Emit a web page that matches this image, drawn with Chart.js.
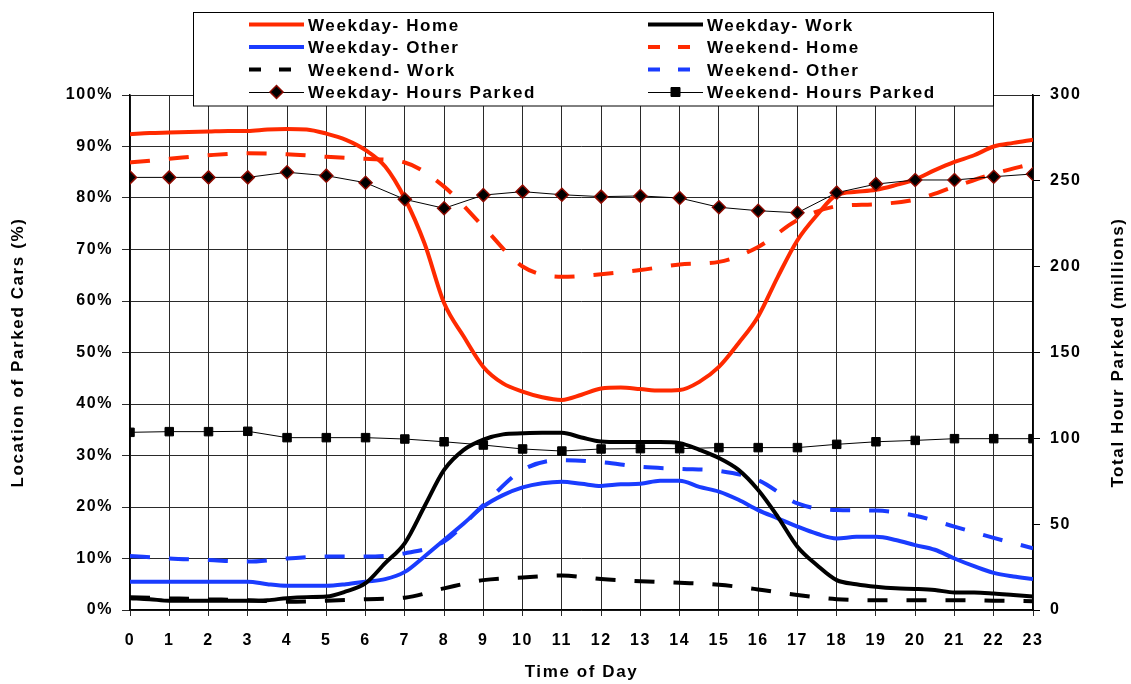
<!DOCTYPE html>
<html>
<head>
<meta charset="utf-8">
<script src="https://cdn.jsdelivr.net/npm/chart.js@4"></script>
<style>
  html, body { margin: 0; padding: 0; background: #fff; }
  #wrap { width: 1131px; height: 684px; position: relative; }
</style>
</head>
<body>
<div id="wrap"><canvas id="myChart"></canvas></div>
<script>
// time axis: hourly points and half-hour points
const hours = [0, 1, 2, 3, 4, 5, 6, 7, 8, 9, 10, 11, 12, 13, 14, 15, 16, 17, 18, 19, 20, 21, 22, 23];
const halfHours = [0, 0.5, 1, 1.5, 2, 2.5, 3, 3.5, 4, 4.5, 5, 5.5, 6, 6.5, 7, 7.5, 8, 8.5, 9, 9.5,
    10, 10.5, 11, 11.5, 12, 12.5, 13, 13.5, 14, 14.5, 15, 15.5, 16, 16.5, 17, 17.5, 18, 18.5, 19, 19.5,
    20, 20.5, 21, 21.5, 22, 22.5, 23];

// % of parked cars (left axis), read every half hour
const weekdayHome = [92.4, 92.6, 92.7, 92.8, 92.9, 93.0, 93.0, 93.3, 93.4, 93.3, 92.5, 91.3, 89.3, 86.1,
    79.9, 71.2, 59.6, 53.1, 47.2, 44.0, 42.4, 41.3, 40.8, 41.8, 43.0, 43.2, 42.9, 42.6, 42.7, 44.3, 47.2,
    51.8, 57.0, 64.7, 71.8, 76.7, 80.6, 81.2, 81.6, 82.5, 83.6, 85.4, 87.0, 88.3, 90.0, 90.7, 91.3];
const weekdayWork = [2.3, 2.1, 1.8, 1.8, 1.8, 1.8, 1.8, 1.9, 2.3, 2.5, 2.6, 3.6, 5.2, 9.1, 13.0, 20.1,
    27.2, 31.1, 33.1, 34.1, 34.3, 34.4, 34.4, 33.5, 32.7, 32.6, 32.6, 32.6, 32.4, 31.1, 29.5, 27.2, 23.3,
    18.1, 12.3, 8.7, 5.8, 5.0, 4.5, 4.2, 4.1, 3.9, 3.4, 3.4, 3.2, 2.9, 2.6];
const weekdayOther = [5.5, 5.5, 5.5, 5.5, 5.5, 5.5, 5.5, 5.0, 4.7, 4.7, 4.7, 5.0, 5.5, 6.0, 7.4, 10.4,
    13.6, 16.8, 20.1, 22.3, 23.8, 24.6, 24.9, 24.5, 24.1, 24.4, 24.5, 25.1, 25.1, 23.9, 23.0, 21.4, 19.4,
    17.8, 16.2, 14.8, 13.9, 14.2, 14.2, 13.6, 12.6, 11.7, 10.0, 8.5, 7.2, 6.5, 6.0];

// weekend, hourly
const weekendHome = [86.9, 87.6, 88.3, 88.7, 88.5, 88.0, 87.6, 86.9, 82.2, 74.4, 66.7, 64.7, 65.2, 66.0,
    67.1, 67.6, 70.5, 75.7, 78.4, 78.8, 79.7, 82.2, 84.7, 86.7];
const weekendWork = [2.5, 2.3, 2.1, 1.9, 1.6, 1.8, 2.1, 2.4, 4.2, 5.8, 6.3, 6.7, 6.0, 5.6, 5.3, 4.9, 4.0,
    2.9, 2.1, 1.9, 1.9, 1.9, 1.8, 1.7];
const weekendOther = [10.5, 10.0, 9.7, 9.4, 10.0, 10.4, 10.4, 11.0, 13.3, 20.4, 27.2, 29.1, 28.7, 27.8,
    27.4, 27.0, 25.2, 20.7, 19.4, 19.3, 18.3, 16.2, 14.0, 12.0];

// total hours parked, millions (right axis)
const weekdayParked = [252, 252, 252, 252, 255, 253, 248.9, 239.2, 234, 241.7, 243.7, 241.9, 240.8,
    241.2, 240, 234.6, 232.6, 231.4, 243.1, 248.1, 250.5, 250.5, 252.4, 254];
const weekendParked = [103.5, 103.9, 103.9, 104.1, 100.4, 100.4, 100.4, 99.6, 98.0, 96.1, 93.8, 92.6,
    93.8, 94.0, 94.0, 94.6, 94.6, 94.6, 96.5, 98.0, 98.8, 99.8, 99.8, 99.8];

const RED = '#ff2a00';
const BLUE = '#1a3cff';
const FONT = '"Liberation Sans", Arial, sans-serif';
const SPACING = '1.6px';

function pts(xs, ys) {
    return xs.map((x, i) => ({x: x, y: ys[i]}));
}

function solid(label, xs, ys, color) {
    return {
        label: label, data: pts(xs, ys), yAxisID: 'y',
        borderColor: color, borderWidth: 4, pointRadius: 0,
        cubicInterpolationMode: 'monotone', order: 1
    };
}

function dashed(label, xs, ys, color) {
    return {
        label: label, data: pts(xs, ys), yAxisID: 'y',
        borderColor: color, borderWidth: 4, borderDash: [20, 19], borderCapStyle: 'butt',
        pointRadius: 0, cubicInterpolationMode: 'monotone', order: 2
    };
}

// listed in legend order (row by row, two columns)
let datasets = [
    solid('Weekday- Home', halfHours, weekdayHome, RED),
    solid('Weekday- Work', halfHours, weekdayWork, '#000'),
    solid('Weekday- Other', halfHours, weekdayOther, BLUE),
    dashed('Weekend- Home', hours, weekendHome, RED),
    dashed('Weekend- Work', hours, weekendWork, '#000'),
    dashed('Weekend- Other', hours, weekendOther, BLUE),
    {
        label: 'Weekday- Hours Parked', data: pts(hours, weekdayParked), yAxisID: 'y1',
        borderColor: '#000', borderWidth: 1, tension: 0,
        pointStyle: 'rectRot', pointRadius: 6.5, pointBackgroundColor: '#000',
        pointBorderColor: '#8b0a00', pointBorderWidth: 1.5, order: 0
    },
    {
        label: 'Weekend- Hours Parked', data: pts(hours, weekendParked), yAxisID: 'y1',
        borderColor: '#000', borderWidth: 1, tension: 0,
        pointStyle: 'rect', pointRadius: 6, pointBackgroundColor: '#000',
        pointBorderColor: '#000', pointBorderWidth: 1, order: 0
    }
];

const spacingPlugin = {
    id: 'spacing',
    beforeLayout(chart) { chart.ctx.letterSpacing = SPACING; },
    beforeDraw(chart) { chart.ctx.letterSpacing = SPACING; }
};

function drawSample(ctx, ds, x0, x1, y) {
    ctx.save();
    ctx.strokeStyle = ds.borderColor;
    if (ds.yAxisID === 'y1') {
        ctx.lineWidth = 1;
        ctx.beginPath(); ctx.moveTo(x0, y + 0.5); ctx.lineTo(x1, y + 0.5); ctx.stroke();
        let cx = (x0 + x1) / 2;
        ctx.fillStyle = '#000';
        ctx.strokeStyle = ds.pointBorderColor;
        ctx.lineWidth = ds.pointBorderWidth;
        ctx.beginPath();
        if (ds.pointStyle === 'rectRot') {
            let r = ds.pointRadius;
            ctx.moveTo(cx - r, y); ctx.lineTo(cx, y - r); ctx.lineTo(cx + r, y); ctx.lineTo(cx, y + r);
            ctx.closePath();
        } else {
            ctx.rect(cx - 4.5, y - 4.5, 9, 9);
        }
        ctx.fill(); ctx.stroke();
    } else {
        ctx.lineWidth = 4;
        if (ds.borderDash) ctx.setLineDash([12, 18]);
        ctx.beginPath(); ctx.moveTo(x0, y); ctx.lineTo(x1, y); ctx.stroke();
    }
    ctx.restore();
}

const legendPlugin = {
    id: 'boxLegend',
    afterDraw(chart) {
        const ctx = chart.ctx;
        ctx.save();
        ctx.fillStyle = '#fff';
        ctx.strokeStyle = '#000';
        ctx.lineWidth = 1;
        ctx.fillRect(193.5, 12.5, 800, 93.5);
        ctx.strokeRect(193.5, 12.5, 800, 93.5);

        const colX = [249, 648];
        ctx.font = 'bold 17px ' + FONT;
        ctx.letterSpacing = SPACING;
        ctx.textBaseline = 'middle';
        ctx.textAlign = 'left';
        chart.data.datasets.forEach((ds, i) => {
            let col = i % 2;
            let row = Math.floor(i / 2);
            let y = 26 + row * 22.5;
            drawSample(ctx, ds, colX[col], colX[col] + 55, y - 1.5);
            ctx.fillStyle = '#000';
            ctx.fillText(ds.label, colX[col] + 59, y);
        });

        // right axis title reads bottom to top like the left one
        const a = chart.chartArea;
        ctx.translate(1118, (a.top + a.bottom) / 2);
        ctx.rotate(-Math.PI / 2);
        ctx.textAlign = 'center';
        ctx.fillText('Total Hour Parked (millions)', 0, 0);
        ctx.restore();
    }
};

const tickFont = {family: FONT, size: 16, weight: 'bold'};
const titleFont = {family: FONT, size: 17, weight: 'bold'};
const gridColor = '#2a2a2a';

const config = {
    type: 'line',
    data: {datasets: datasets},
    options: {
        responsive: true,
        maintainAspectRatio: false,
        animation: false,
        layout: {padding: {top: 95, left: 0, right: 0, bottom: 0}},
        plugins: {legend: {display: false}, tooltip: {enabled: false}},
        scales: {
            x: {
                type: 'linear', min: 0, max: 23,
                ticks: {stepSize: 1, color: '#000', font: tickFont, padding: 15, maxRotation: 0},
                grid: {color: gridColor, lineWidth: 1, tickLength: 6},
                border: {color: '#000', width: 1.5},
                title: {display: true, text: 'Time of Day', color: '#000', font: titleFont,
                    padding: {top: 0, bottom: 1}},
                afterFit(scale) { scale.height = 74; }
            },
            y: {
                position: 'left', min: 0, max: 100,
                ticks: {stepSize: 10, color: '#000', font: tickFont, padding: 9,
                    callback(value) { return value + '%'; }},
                grid: {color: gridColor, lineWidth: 1, tickLength: 8},
                border: {color: '#000', width: 1.5},
                title: {display: true, text: 'Location of Parked Cars (%)', color: '#000',
                    font: titleFont, padding: {top: 8, bottom: 0}},
                afterFit(scale) { scale.width = 130; }
            },
            y1: {
                position: 'right', min: 0, max: 300,
                ticks: {stepSize: 50, color: '#000', font: tickFont, padding: 10},
                grid: {drawOnChartArea: false, color: '#000', tickLength: 7},
                border: {color: '#000', width: 1.5},
                afterFit(scale) { scale.width = 98; }
            }
        }
    },
    plugins: [spacingPlugin, legendPlugin]
};

const ctx = document.getElementById('myChart');
window.chart = new Chart(ctx, config);
</script>
</body>
</html>
